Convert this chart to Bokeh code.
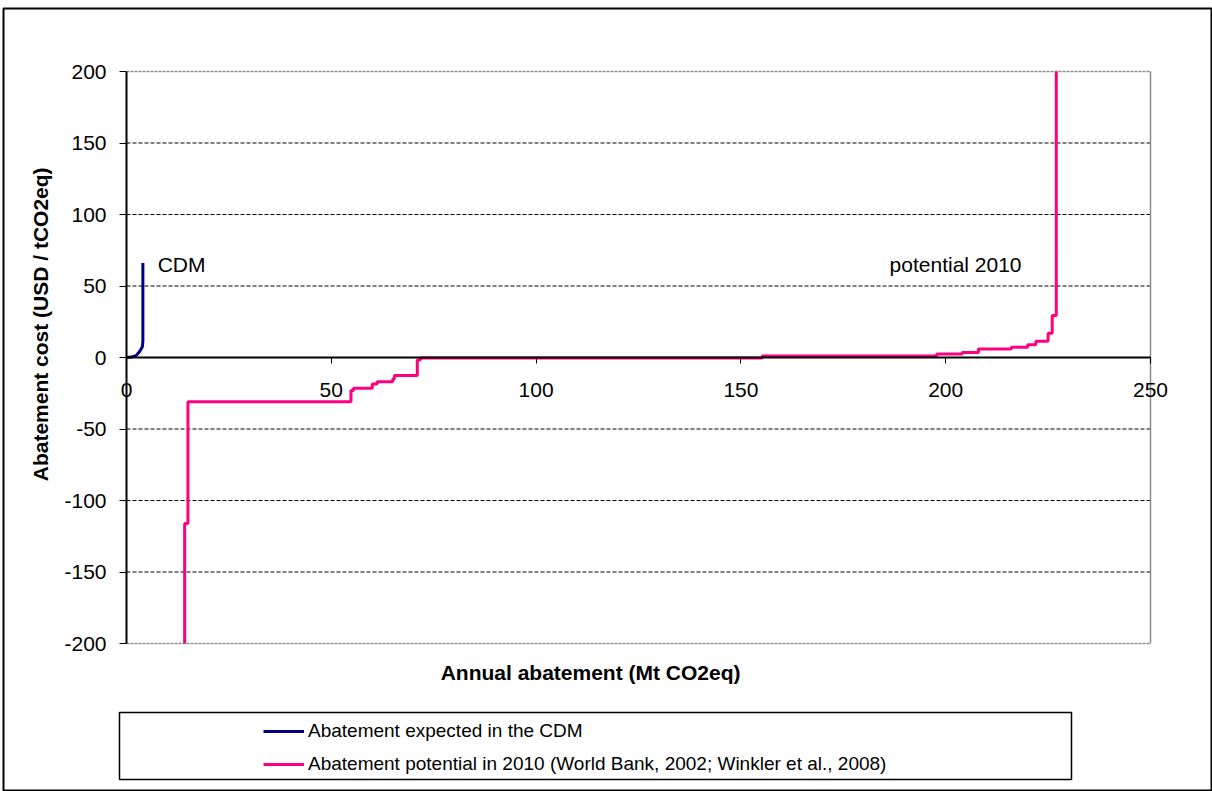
import math
from bokeh.plotting import figure
from bokeh.models import (Range1d, FixedTicker, Legend, LegendItem, Label,
                          BoxAnnotation)
from bokeh.core.properties import value
from bokeh.embed import file_html
from bokeh.resources import INLINE

# ---------------- data ----------------
# CDM expected abatement (cumulative Mt CO2eq, cost USD/tCO2eq)
cdm_x = [0.0, 1.2, 2.4, 3.3, 3.9, 4.0, 4.0]
cdm_y = [0.0, 0.3, 1.5, 4.5, 7.7, 12.0, 66.0]

# Abatement potential 2010: step curve, segment start, segment end, cost
pot_start = [14.2, 14.2, 15.0, 54.8, 55.4, 60.0, 61.2, 65.0, 65.4, 71.0,
             71.8, 155.2, 197.8, 204.0, 208.0, 216.0, 220.0, 222.0, 225.0, 226.0]
pot_end = pot_start[1:] + [227.0]
pot_cost = [-260.0, -116.0, -31.0, -23.0, -21.5, -18.5, -17.0, -15.0, -12.5, -1.5,
            -0.3, 1.0, 2.5, 3.5, 6.0, 7.2, 9.0, 11.4, 17.0, 29.4]
pot_top = 260.0

# axes
x_min, x_max = 0, 250
y_min, y_max = -200, 200
x_ticks = [0, 50, 100, 150, 200, 250]
y_ticks = [-200, -150, -100, -50, 0, 50, 100, 150, 200]
grid_ticks = [-150, -100, -50, 50, 100, 150]


def clip_y(v):
    return max(y_min, min(y_max, v))


pot_x, pot_y = [], []
for s, e, c in zip(pot_start, pot_end, pot_cost):
    pot_x += [s, e]
    pot_y += [clip_y(c), clip_y(c)]
pot_x.append(pot_end[-1])
pot_y.append(clip_y(pot_top))

FONT = "Liberation Sans"
PINK = "#FF0080"
NAVY = "#000080"

# page geometry: plot area spans px 126..1150 (x) and 71..643 (y)
W, H = 1212, 791
BL, BT = 3, 8
px_per_x = 1024 / (x_max - x_min)
px_per_y = 572 / (y_max - y_min)
xr = Range1d(x_min - (126 - BL) / px_per_x, x_max + (W - 1150) / px_per_x)
yr = Range1d(y_min - (H - 643) / px_per_y, y_max + (71 - BT) / px_per_y)

p = figure(width=W, height=H, output_backend="svg", toolbar_location=None,
           x_range=xr, y_range=yr,
           min_border_left=BL, min_border_top=BT, min_border_right=0,
           min_border_bottom=0, background_fill_color="white",
           border_fill_color="white")
p.outline_line_color = "black"
p.outline_line_width = 2
p.grid.visible = False

# plot-area frame and gridlines
p.segment(x0=[x_min] * len(grid_ticks), x1=[x_max] * len(grid_ticks),
          y0=grid_ticks, y1=grid_ticks, line_color="black", line_width=1,
          line_dash="4 2")
p.segment(x0=[x_min, x_min], x1=[x_max, x_max], y0=[y_min, y_max],
          y1=[y_min, y_max], line_color="#8c8c8c", line_width=1.5,
          line_dash="3 1")
p.segment(x0=[x_max], x1=[x_max], y0=[y_min], y1=[y_max],
          line_color="#8c8c8c", line_width=1.5)

# y axis at x = 0
ya = p.yaxis[0]
ya.fixed_location = 0
ya.bounds = (y_min, y_max)
ya.ticker = FixedTicker(ticks=y_ticks)
ya.major_label_overrides = {t: str(t) for t in y_ticks}
ya.axis_line_color = "black"
ya.axis_line_width = 2
ya.major_tick_out = 7
ya.major_tick_in = 0
ya.minor_tick_line_color = None
ya.major_label_text_font = FONT
ya.major_label_text_font_size = "21px"
ya.major_label_text_color = "black"
ya.major_label_standoff = 13

# x axis crossing at y = 0
xa = p.xaxis[0]
xa.fixed_location = 0
xa.bounds = (x_min, x_max)
xa.ticker = FixedTicker(ticks=x_ticks)
xa.axis_line_color = "black"
xa.axis_line_width = 2
xa.major_tick_out = 6
xa.major_tick_in = 0
xa.minor_tick_line_color = None
xa.major_label_text_font = FONT
xa.major_label_text_font_size = "21px"
xa.major_label_text_color = "black"
xa.major_label_standoff = 19

# curves
r_cdm = p.line(cdm_x, cdm_y, line_color=NAVY, line_width=3)
r_pot = p.line(pot_x, pot_y, line_color=PINK, line_width=3)

# in-plot labels
p.text(x=[7.6], y=[65], text=["CDM"], text_font=value(FONT),
       text_font_size="21px", text_baseline="middle", text_align="left",
       text_color="black")
p.text(x=[186.3], y=[65], text=["potential 2010"], text_font=value(FONT),
       text_font_size="21px", text_baseline="middle", text_align="left",
       text_color="black")

# axis titles (screen units measured from the frame's bottom-left corner)
p.add_layout(Label(x=593 - BL, y=H - 672, x_units="screen", y_units="screen",
                   text="Annual abatement  (Mt CO2eq)", text_font=FONT,
                   text_font_size="21px", text_font_style="bold",
                   text_align="center", text_baseline="middle",
                   text_color="black"))
p.add_layout(Label(x=40 - BL, y=H - 318, x_units="screen", y_units="screen",
                   text="Abatement  cost  (USD / tCO2eq)", text_font=FONT,
                   text_font_size="21px", text_font_style="bold",
                   angle=math.pi / 2, text_align="center",
                   text_baseline="middle", text_color="black"))

# legend box
p.add_layout(BoxAnnotation(left=119 - BL, right=1071 - BL, top=H - 712,
                           bottom=H - 779,
                           left_units="screen", right_units="screen",
                           top_units="screen", bottom_units="screen",
                           fill_alpha=0, line_color="black", line_alpha=1,
                           line_width=1.5))

legend = Legend(items=[
    LegendItem(label="Abatement expected in the CDM", renderers=[r_cdm]),
    LegendItem(label="Abatement potential in 2010 (World Bank, 2002; Winkler et al., 2008)",
               renderers=[r_pot]),
], location=(263 - BL, H - 775), orientation="vertical", padding=0, margin=0,
    spacing=11, glyph_width=41, glyph_height=20, label_height=20,
    label_standoff=4, label_text_font=FONT, label_text_font_size="19px",
    label_text_color="black", border_line_alpha=0, background_fill_alpha=0)
p.add_layout(legend, "center")

open("out.html", "w").write(file_html(p, INLINE))
